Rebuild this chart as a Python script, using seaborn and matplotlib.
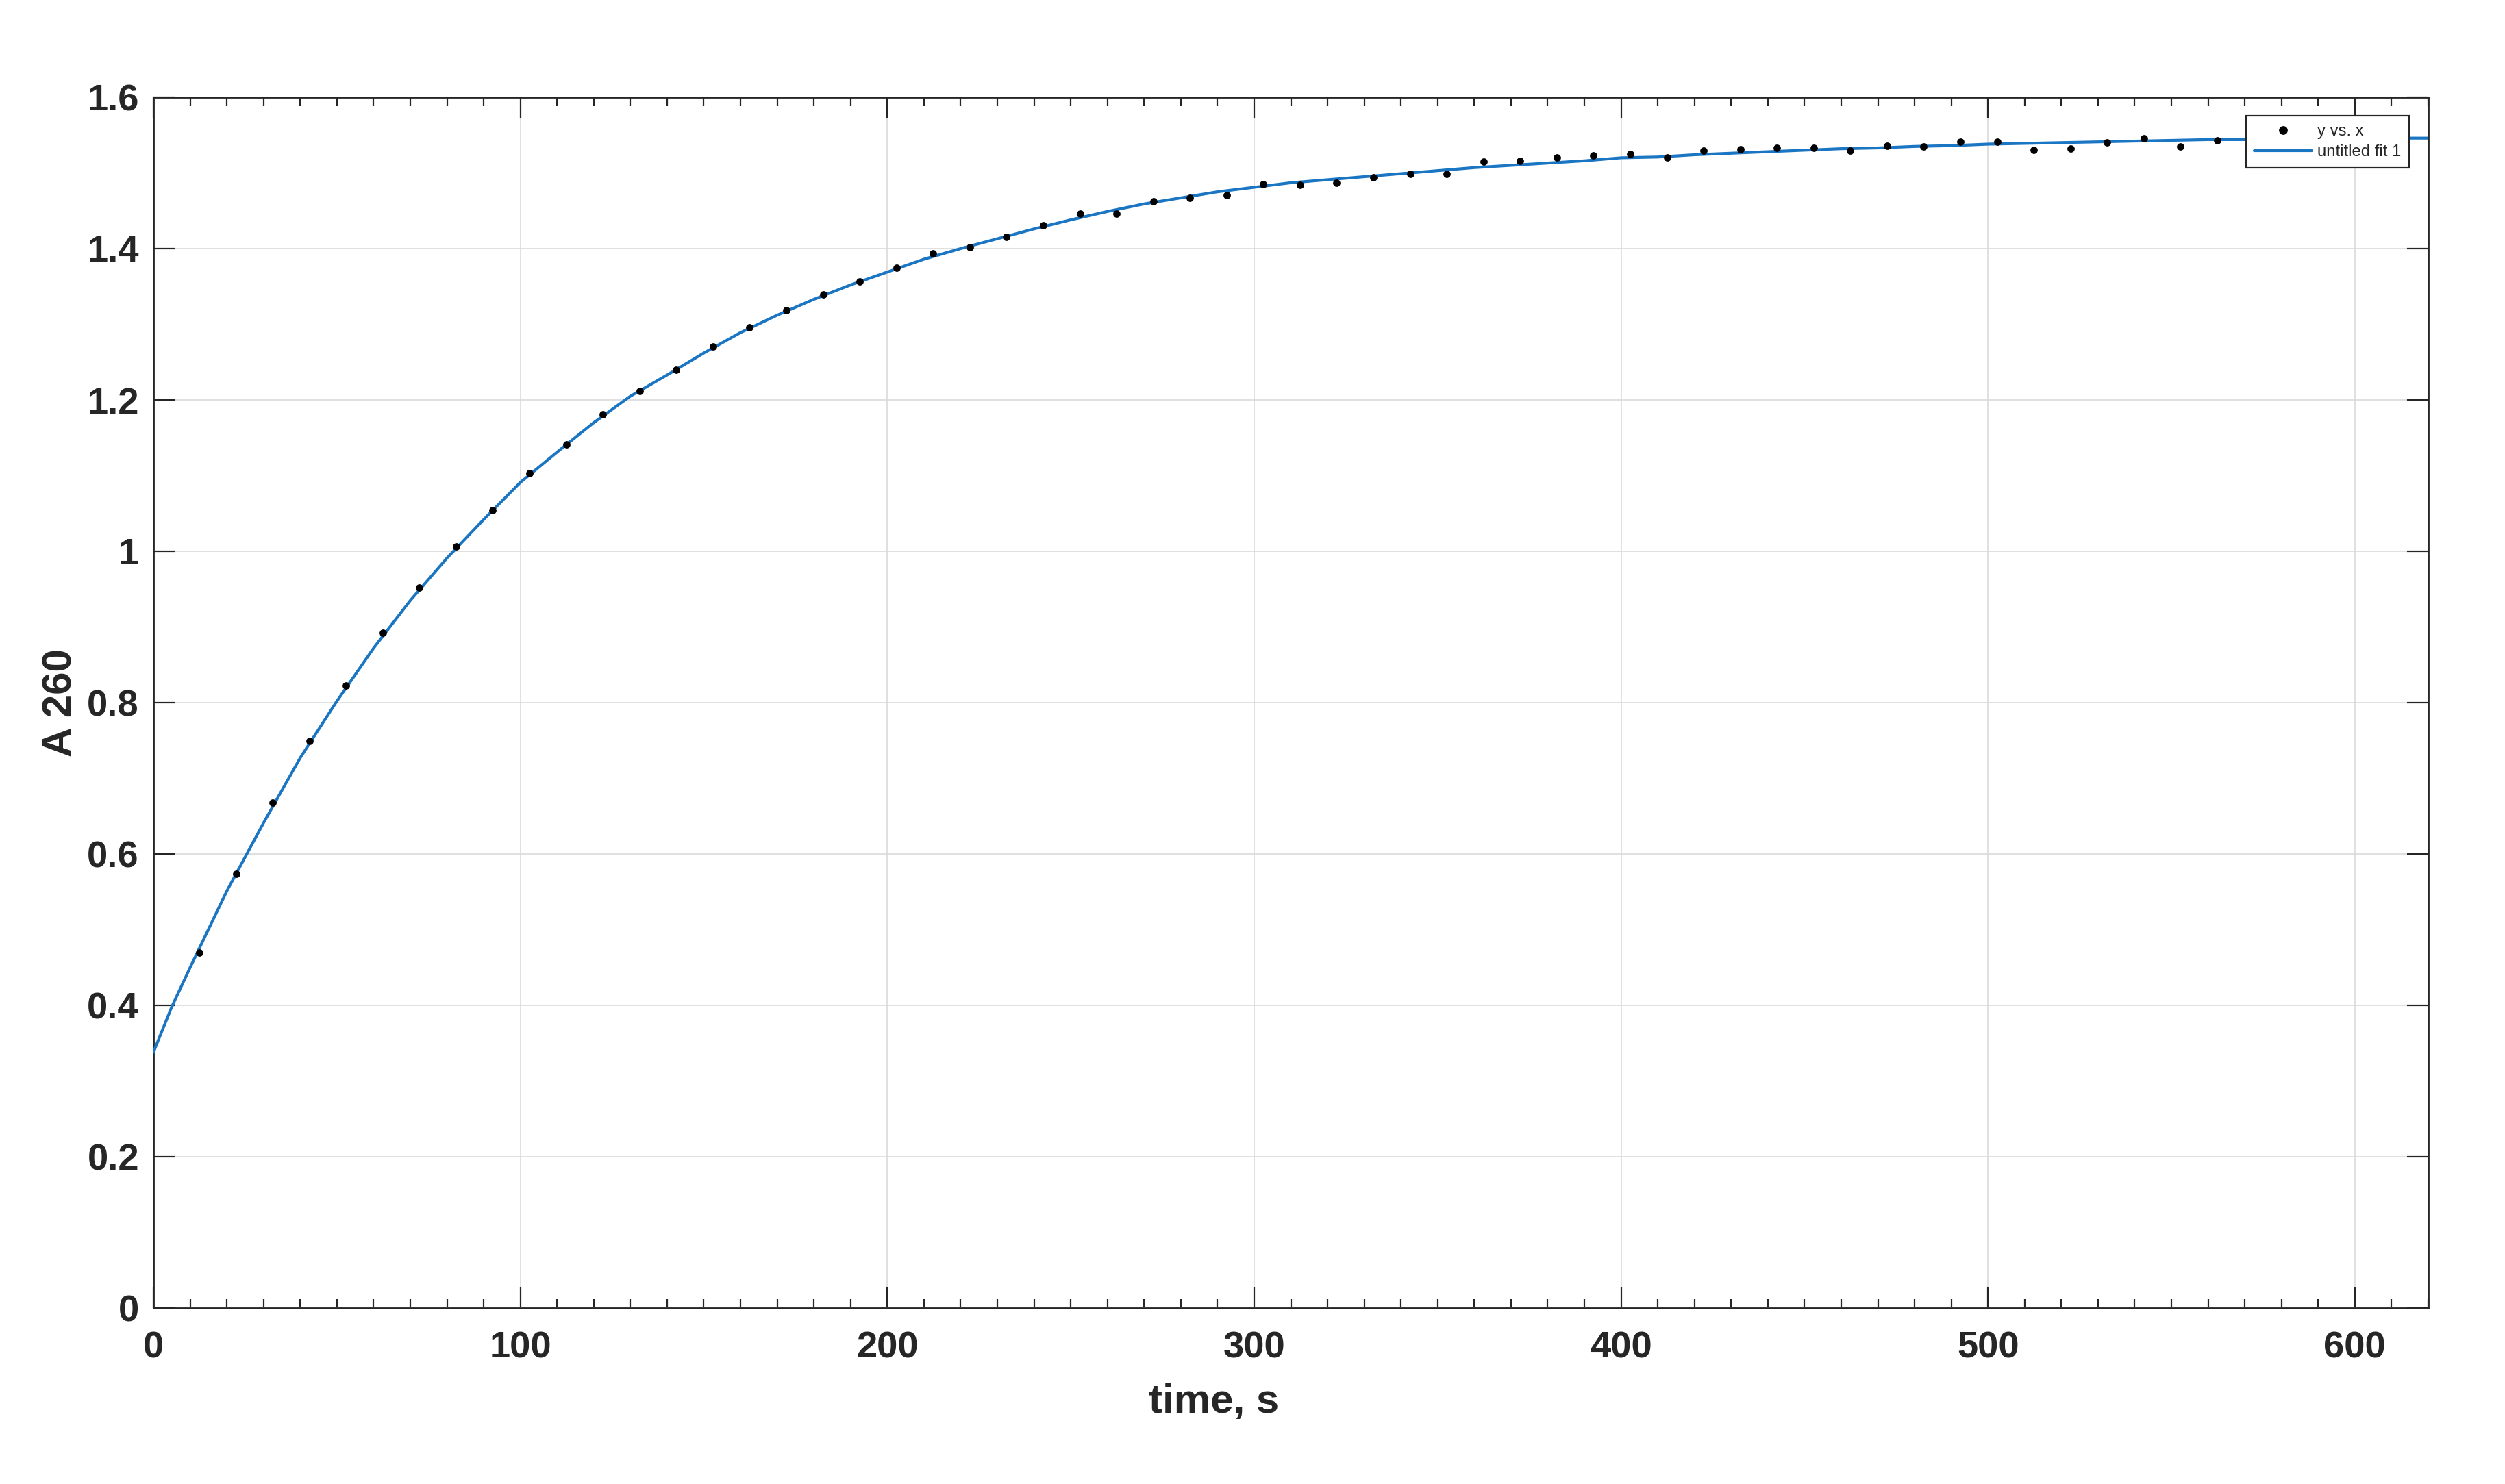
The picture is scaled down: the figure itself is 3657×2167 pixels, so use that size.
import numpy as np
import pandas as pd
import matplotlib
matplotlib.use("Agg")
import matplotlib.pyplot as plt
import seaborn as sns
from matplotlib.lines import Line2D
from matplotlib.ticker import MultipleLocator

# ---------------- data ----------------
time_s = [12.5, 22.5, 32.5, 42.5, 52.5, 62.5, 72.5, 82.5, 92.5, 102.5,
          112.5, 122.5, 132.5, 142.5, 152.5, 162.5, 172.5, 182.5, 192.5, 202.5,
          212.5, 222.5, 232.5, 242.5, 252.5, 262.5, 272.5, 282.5, 292.5, 302.5,
          312.5, 322.5, 332.5, 342.5, 352.5, 362.5, 372.5, 382.5, 392.5, 402.5,
          412.5, 422.5, 432.5, 442.5, 452.5, 462.5, 472.5, 482.5, 492.5, 502.5,
          512.5, 522.5, 532.5, 542.5, 552.5, 562.5]
a260 = [0.470, 0.574, 0.668, 0.749, 0.823, 0.892, 0.952, 1.006, 1.054, 1.103,
        1.141, 1.181, 1.212, 1.240, 1.271, 1.296, 1.319, 1.339, 1.357, 1.375,
        1.394, 1.402, 1.415, 1.431, 1.446, 1.446, 1.462, 1.467, 1.471, 1.485,
        1.484, 1.487, 1.494, 1.499, 1.499, 1.515, 1.516, 1.520, 1.523, 1.525,
        1.520, 1.529, 1.531, 1.533, 1.533, 1.529, 1.536, 1.535, 1.541, 1.541,
        1.530, 1.532, 1.540, 1.546, 1.535, 1.543]

fit_time = [0, 5, 10, 20, 30, 40, 50, 60, 70, 80, 90, 100, 110, 120, 130, 140,
            150, 160, 170, 180, 190, 200, 210, 220, 230, 240, 250, 260, 270, 280,
            290, 300, 310, 320, 330, 340, 350, 360, 370, 380, 390, 400, 410, 420,
            430, 440, 450, 460, 470, 480, 490, 500, 510, 520, 530, 540, 550, 560,
            570, 580, 590, 600, 610, 620]
fit_a260 = [0.338, 0.398, 0.450, 0.551, 0.641, 0.727, 0.802, 0.872, 0.935, 0.991,
            1.042, 1.091, 1.131, 1.170, 1.205, 1.233, 1.262, 1.289, 1.312, 1.333,
            1.352, 1.369, 1.386, 1.400, 1.413, 1.426, 1.438, 1.449, 1.459, 1.467,
            1.475, 1.481, 1.487, 1.491, 1.495, 1.499, 1.503, 1.507, 1.510, 1.513,
            1.516, 1.520, 1.521, 1.524, 1.526, 1.528, 1.530, 1.532, 1.533, 1.535,
            1.536, 1.538, 1.539, 1.540, 1.541, 1.542, 1.543, 1.544, 1.544, 1.545,
            1.545, 1.546, 1.546, 1.546]

x_ticks = [0, 100, 200, 300, 400, 500, 600]
y_ticks = [0, 0.2, 0.4, 0.6, 0.8, 1.0, 1.2, 1.4, 1.6]
y_tick_labels = ["0", "0.2", "0.4", "0.6", "0.8", "1", "1.2", "1.4", "1.6"]
x_label = "time, s"
y_label = "A 260"
legend_labels = ["y vs. x", "untitled fit 1"]

# ---------------- styling ----------------
BLUE = "#1a75c2"
DARK = "#262626"
W, H, DPI = 3657, 2167, 200

sns.set_theme(style="ticks")
plt.rcParams["font.family"] = ["Liberation Sans", "DejaVu Sans"]

fig = plt.figure(figsize=(W / DPI, H / DPI), dpi=DPI)
fig.patch.set_facecolor("white")
ax = fig.add_axes([224 / W, (H - 1910) / H, 3321 / W, 1768 / H])
ax.set_facecolor("white")

dots = pd.DataFrame({"x": time_s, "y": a260})
fit = pd.DataFrame({"x": fit_time, "y": fit_a260})

sns.lineplot(data=fit, x="x", y="y", ax=ax, color=BLUE, linewidth=1.5,
             estimator=None, sort=False, zorder=3)
sns.scatterplot(data=dots, x="x", y="y", ax=ax, color="black", s=15,
                linewidth=0, zorder=4, legend=False)

ax.set_xlim(0, 620)
ax.set_ylim(0, 1.6)
ax.set_xticks(x_ticks)
ax.set_yticks(y_ticks)
ax.set_yticklabels(y_tick_labels)
ax.xaxis.set_minor_locator(MultipleLocator(10))

ax.tick_params(which="both", direction="in", top=True, right=True,
               color=DARK, width=0.8, labelcolor=DARK)
ax.tick_params(which="major", length=11)
ax.tick_params(which="minor", length=4.7)
ax.tick_params(axis="y", which="minor", left=False, right=False)
ax.tick_params(axis="x", which="major", pad=12, labelsize=19.6)
ax.tick_params(axis="y", which="major", pad=7.6, labelsize=19.6)
for lbl in ax.get_xticklabels() + ax.get_yticklabels():
    lbl.set_fontweight("bold")

ax.grid(True, which="major", color="#dadada", linewidth=0.6)
ax.set_axisbelow(True)
for sp in ax.spines.values():
    sp.set_visible(True)
    sp.set_color(DARK)
    sp.set_linewidth(1.0)

ax.set_xlabel(x_label, fontsize=21.6, fontweight="bold", color=DARK)
ax.xaxis.label.set_horizontalalignment("left")
ax.xaxis.set_label_coords(0.4375, -0.0622)
ax.set_ylabel(y_label, fontsize=21.6, fontweight="bold", color=DARK)
ax.yaxis.set_label_coords(-0.0325, 0.5)

handles = [Line2D([], [], linestyle="none", marker="o", markersize=3.6,
                  color="black", markeredgecolor="black"),
           Line2D([], [], color=BLUE, linewidth=1.5)]
leg = ax.legend(handles, legend_labels, loc="upper right",
                bbox_to_anchor=(0.9916, 0.9847), borderaxespad=0,
                fontsize=8.6, frameon=True, fancybox=False, edgecolor=DARK,
                framealpha=1, handlelength=3.5, handletextpad=0.34,
                borderpad=0.5, labelspacing=0.34)
leg.get_frame().set_linewidth(0.8)
leg.set_zorder(10)
for t in leg.get_texts():
    t.set_color(DARK)

fig.savefig("out.png", dpi=DPI, facecolor="white")
